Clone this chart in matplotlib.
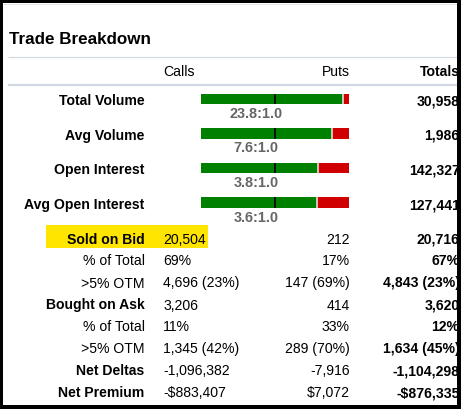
import matplotlib
matplotlib.use('Agg')
import matplotlib.pyplot as plt
from matplotlib.patches import Rectangle

plt.rcParams['font.family'] = ['Liberation Sans', 'DejaVu Sans']

# ---------------- data ----------------
title = "Trade Breakdown"
columns = ["Calls", "Puts", "Totals"]
bar_labels = ["Total Volume", "Avg Volume", "Open Interest", "Avg Open Interest"]
bar_ratios = [23.8, 7.6, 3.8, 3.6]          # calls : puts (puts = 1.0)
bar_totals = ["30,958", "1,986", "142,327", "127,441"]
row_labels = ["Sold on Bid", "% of Total", ">5% OTM", "Bought on Ask",
              "% of Total", ">5% OTM", "Net Deltas", "Net Premium"]
row_bold = [True, False, False, True, False, False, True, True]
calls_vals = ["20,504", "69%", "4,696 (23%)", "3,206", "11%",
              "1,345 (42%)", "-1,096,382", "-$883,407"]
puts_vals = ["212", "17%", "147 (69%)", "414", "33%",
             "289 (70%)", "-7,916", "$7,072"]
totals_vals = ["20,716", "67%", "4,843 (23%)", "3,620", "12%",
               "1,634 (45%)", "-1,104,298", "-$876,335"]

# ---------------- layout ----------------
W, H = 461, 409
DPI = 100
PX = 72.0 / DPI
fs = 14 * PX
fs_title = 17 * PX

x_label, x_calls, x_puts, x_tot = 144.5, 163, 349.5, 459.5
x_ratio = 256
bar_x0, bar_w, bar_h = 201, 148, 10.7
bar_base = [105.3, 139.7, 174.3, 209.0]
row_base = [243.5, 265.0, 287.5, 309.5, 331.0, 353.0, 375.0, 397.0]

GREEN = '#008000'
RED = '#d00000'
SEP = '#d3d9e3'

fig = plt.figure(figsize=(W / DPI, H / DPI), dpi=DPI)
ax = fig.add_axes([0, 0, 1, 1])
ax.set_xlim(0, W)
ax.set_ylim(H, 0)
ax.axis('off')

# title
ax.text(9, 43.5, title, fontsize=fs_title, fontweight='bold', va='baseline', ha='left')

# separators
ax.plot([3, 457], [4, 4], color='#e3e6eb', lw=1 * PX * 1.0, solid_capstyle='butt')
ax.plot([8, 457], [56.7, 56.7], color=SEP, lw=1.2 * PX, solid_capstyle='butt')
ax.plot([8, 457], [85.2, 85.2], color=SEP, lw=2.2 * PX, solid_capstyle='butt')

# header
ax.text(x_calls, 76, columns[0], fontsize=fs, va='baseline', ha='left')
ax.text(x_puts, 76, columns[1], fontsize=fs, va='baseline', ha='right')
ax.text(x_tot, 76, columns[2], fontsize=fs, fontweight='bold', va='baseline', ha='right')

# bar rows
for lab, r, tot, yb in zip(bar_labels, bar_ratios, bar_totals, bar_base):
    yc = yb - 6.4
    share = r / (r + 1.0)
    ax.barh(yc, share * bar_w, left=bar_x0, height=bar_h, color=GREEN, linewidth=0)
    ax.barh(yc, (1 - share) * bar_w, left=bar_x0 + share * bar_w, height=bar_h,
            color=RED, linewidth=0)
    ax.vlines(bar_x0 + share * bar_w, yc - bar_h / 2, yc + bar_h / 2,
              color='#f0f0f0', lw=1.5 * PX)
    ax.vlines(bar_x0 + 0.5 * bar_w, yc - bar_h / 2, yc + bar_h / 2,
              color='#111111', lw=2 * PX)
    ax.text(x_label, yb, lab, fontsize=fs, fontweight='bold', va='baseline', ha='right')
    ax.text(x_ratio, yb + 12.6, f"{r:.1f}:1.0", fontsize=fs * 1.03, fontweight='bold',
            color='#666666', va='baseline', ha='center')
    ax.text(x_tot, yb, tot, fontsize=fs, fontweight='bold', va='baseline', ha='right')

# highlight behind "Sold on Bid"
ax.add_patch(Rectangle((46, 224.5), 162, 23.5, color='#ffe500', zorder=0, linewidth=0))

# value rows
for lab, b, c, p, t, yb in zip(row_labels, row_bold, calls_vals, puts_vals,
                               totals_vals, row_base):
    ax.text(x_label, yb, lab, fontsize=fs, fontweight='bold' if b else 'normal',
            va='baseline', ha='right')
    ax.text(x_calls, yb, c, fontsize=fs, va='baseline', ha='left')
    ax.text(x_puts, yb, p, fontsize=fs, va='baseline', ha='right')
    ax.text(x_tot, yb, t, fontsize=fs, fontweight='bold', va='baseline', ha='right')

# black frame
for (x0, y0, w, h) in [(0, 0, 3, H), (0, 0, W, 3), (457, 0, 4, H), (0, 405, W, 4)]:
    ax.add_patch(Rectangle((x0, y0), w, h, color='black', zorder=20, linewidth=0))

fig.savefig('out.png', dpi=DPI)
